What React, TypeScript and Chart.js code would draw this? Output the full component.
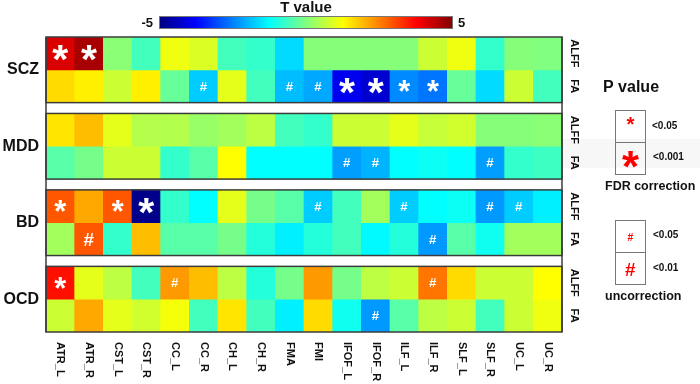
import React, { useEffect, useRef } from "react";
import { Chart, registerables } from "chart.js";
Chart.register(...registerables);

const tracts = ["ATR_L", "ATR_R", "CST_L", "CST_R", "CC_L", "CC_R", "CH_L", "CH_R", "FMA", "FMI", "IFOF_L", "IFOF_R", "ILF_L", "ILF_R", "SLF_L", "SLF_R", "UC_L", "UC_R"];
const groups = ["SCZ", "MDD", "BD", "OCD"];
const measures = ["ALFF", "FA"];

const sczALFF = [4.1, 4.6, 0.1, -0.6, 1.1, 0.9, -0.6, -0.75, -1.6, 0.05, 0.05, 0.05, 0.05, 0.75, 1.1, -0.75, 0.05, 0.0];
const sczFA = [1.6, 1.4, 0.75, 1.4, -0.25, -1.75, 1.0, -0.6, -1.9, -2.1, -3.9, -4.2, -2.4, -2.6, -0.25, -1.6, 0.75, -0.6];
const mddALFF = [1.5, 1.9, 1.0, 0.5, 0.5, 0.25, 0.35, 0.6, -0.6, -0.75, 0.75, 0.75, 1.0, 0.7, 0.8, 0.05, 0.05, 0.1];
const mddFA = [-0.4, -0.1, 0.75, 0.75, -0.75, -0.4, 1.25, -1.25, -1.25, -1.25, -2.2, -2.0, -1.25, -1.15, -1.25, -2.2, -0.75, -0.65];
const bdALFF = [2.9, 2.1, 2.9, -4.9, -0.75, -1.25, 1.0, -0.1, -0.4, -1.75, -0.6, 0.35, -1.75, -1.25, -1.15, -2.25, -1.75, -1.4];
const bdFA = [0.35, 2.9, -0.75, 1.9, -0.4, -0.4, -0.1, -0.9, -1.4, -0.9, -0.6, -1.3, -0.9, -2.25, -0.4, -1.1, 0.35, 0.35];
const ocdALFF = [3.6, 1.0, 0.6, -0.6, 2.25, 1.9, 0.6, -0.9, -0.1, 2.25, -0.1, 0.6, 0.75, 2.6, 1.6, 0.75, 0.75, 1.25];
const ocdFA = [0.75, 2.1, 1.0, 0.8, 1.15, -0.6, 1.5, -0.6, -1.4, 1.6, -1.1, -2.25, -0.4, 0.6, 0.75, -0.6, 0.75, 1.1];

// "*" FDR p<0.05, "**" FDR p<0.001, "#" uncorrected p<0.05, "##" uncorrected p<0.01
const sczALFFSig = ["**", "**", "", "", "", "", "", "", "", "", "", "", "", "", "", "", "", ""];
const sczFASig = ["", "", "", "", "", "#", "", "", "#", "#", "**", "**", "*", "*", "", "", "", ""];
const mddALFFSig = ["", "", "", "", "", "", "", "", "", "", "", "", "", "", "", "", "", ""];
const mddFASig = ["", "", "", "", "", "", "", "", "", "", "#", "#", "", "", "", "#", "", ""];
const bdALFFSig = ["*", "", "*", "**", "", "", "", "", "", "#", "", "", "#", "", "", "#", "#", ""];
const bdFASig = ["", "##", "", "", "", "", "", "", "", "", "", "", "", "#", "", "", "", ""];
const ocdALFFSig = ["*", "", "", "", "#", "", "", "", "", "", "", "", "", "#", "", "", "", ""];
const ocdFASig = ["", "", "", "", "", "", "", "", "", "", "", "#", "", "", "", "", "", ""];

const rowValues = [sczALFF, sczFA, mddALFF, mddFA, bdALFF, bdFA, ocdALFF, ocdFA];
const rowSigs = [sczALFFSig, sczFASig, mddALFFSig, mddFASig, bdALFFSig, bdFASig, ocdALFFSig, ocdFASig];

const T_MIN = -5;
const T_MAX = 5;
const GAP = 0.33;
const Y_MAX = 8 + 3 * GAP;
const FONT = '"Liberation Sans", Arial, sans-serif';

function clamp(x: number) {
  return Math.max(0, Math.min(1, x));
}
function jet(v: number) {
  const t = clamp((v - T_MIN) / (T_MAX - T_MIN));
  const r = clamp(1.5 - Math.abs(4 * t - 3));
  const g = clamp(1.5 - Math.abs(4 * t - 2));
  const b = clamp(1.5 - Math.abs(4 * t - 1));
  return `rgb(${Math.round(r * 255)},${Math.round(g * 255)},${Math.round(b * 255)})`;
}
function rowTop(r: number) {
  return r + Math.floor(r / 2) * GAP;
}

function drawGlyph(ctx: CanvasRenderingContext2D, ch: string, cx: number, cy: number, targetW: number, color: string) {
  ctx.font = `bold 100px ${FONT}`;
  const m = ctx.measureText(ch);
  const w = m.actualBoundingBoxLeft + m.actualBoundingBoxRight;
  const size = (100 * targetW) / w;
  ctx.font = `bold ${size}px ${FONT}`;
  const m2 = ctx.measureText(ch);
  ctx.textAlign = "left";
  ctx.textBaseline = "alphabetic";
  const gx = cx - (m2.actualBoundingBoxRight - m2.actualBoundingBoxLeft) / 2;
  const gy = cy + (m2.actualBoundingBoxAscent - m2.actualBoundingBoxDescent) / 2;
  ctx.fillStyle = color;
  ctx.fillText(ch, gx, gy);
}

function drawSig(ctx: CanvasRenderingContext2D, s: string, cx: number, cy: number, color: string) {
  if (s === "**") drawGlyph(ctx, "*", cx, cy, 16, color);
  else if (s === "*") drawGlyph(ctx, "*", cx, cy, 12, color);
  else if (s === "##") drawGlyph(ctx, "#", cx, cy, 10, color);
  else if (s === "#") drawGlyph(ctx, "#", cx, cy, 7, color);
}

const decorPlugin = {
  id: "heatDecor",
  beforeDraw(chart: any) {
    const ctx = chart.ctx;
    ctx.save();
    ctx.fillStyle = "#ffffff";
    ctx.fillRect(0, 0, chart.width, chart.height);
    ctx.fillStyle = "#f7f7f7";
    ctx.fillRect(chart.chartArea.right, 139, chart.width - chart.chartArea.right, 29);
    ctx.restore();
  },
  afterDatasetsDraw(chart: any) {
    const ctx: CanvasRenderingContext2D = chart.ctx;
    const xs = chart.scales.x;
    const ys = chart.scales.y;
    const { left, right } = chart.chartArea;
    ctx.save();

    // markers
    rowSigs.forEach((sigs, r) => {
      const cy = ys.getPixelForValue(rowTop(r) + 0.5);
      sigs.forEach((s, c) => {
        if (!s) return;
        drawSig(ctx, s, xs.getPixelForValue(c), cy, "#ffffff");
      });
    });

    // group frames
    ctx.strokeStyle = "#3c3c3c";
    ctx.lineWidth = 1.5;
    for (let g = 0; g < groups.length; g++) {
      const t = ys.getPixelForValue(rowTop(g * 2));
      const b = ys.getPixelForValue(rowTop(g * 2) + 2);
      ctx.strokeRect(left, t, right - left, b - t);
    }
    const top = ys.getPixelForValue(0);
    const bottom = ys.getPixelForValue(Y_MAX);
    ctx.beginPath();
    ctx.moveTo(left, top);
    ctx.lineTo(left, bottom);
    ctx.moveTo(right, top);
    ctx.lineTo(right, bottom);
    ctx.stroke();

    // group labels
    ctx.fillStyle = "#111";
    ctx.font = `bold 16px ${FONT}`;
    ctx.textAlign = "right";
    ctx.textBaseline = "middle";
    groups.forEach((g, i) => {
      ctx.fillText(g, 39, ys.getPixelForValue(rowTop(i * 2) + 1));
    });

    // measure labels (rotated)
    ctx.font = `bold 11px ${FONT}`;
    ctx.textAlign = "center";
    for (let r = 0; r < 8; r++) {
      const cy = ys.getPixelForValue(rowTop(r) + 0.5);
      ctx.save();
      ctx.translate(right + 12, cy);
      ctx.rotate(Math.PI / 2);
      ctx.fillText(measures[r % 2], 0, 0);
      ctx.restore();
    }

    // tract labels (rotated clockwise)
    ctx.textAlign = "left";
    tracts.forEach((t, c) => {
      ctx.save();
      ctx.translate(xs.getPixelForValue(c), bottom + 10);
      ctx.rotate(Math.PI / 2);
      ctx.fillText(t, 0, 0);
      ctx.restore();
    });

    // colorbar
    const cbL = 159, cbR = 453, cbT = 16, cbB = 29;
    const grad = ctx.createLinearGradient(cbL, 0, cbR, 0);
    for (let i = 0; i <= 40; i++) {
      grad.addColorStop(i / 40, jet(T_MIN + ((T_MAX - T_MIN) * i) / 40));
    }
    ctx.fillStyle = grad;
    ctx.fillRect(cbL, cbT, cbR - cbL, cbB - cbT);
    ctx.strokeStyle = "#777";
    ctx.lineWidth = 1;
    ctx.strokeRect(cbL + 0.5, cbT + 0.5, cbR - cbL - 1, cbB - cbT - 1);
    ctx.fillStyle = "#111";
    ctx.font = `bold 15px ${FONT}`;
    ctx.textAlign = "center";
    ctx.textBaseline = "middle";
    ctx.fillText("T value", (cbL + cbR) / 2, 8);
    ctx.font = `bold 13px ${FONT}`;
    ctx.textAlign = "right";
    ctx.fillText(String(T_MIN), cbL - 6, 23);
    ctx.textAlign = "left";
    ctx.fillText(String(T_MAX), cbR + 5, 23);

    // P value legend
    ctx.font = `bold 16px ${FONT}`;
    ctx.textAlign = "left";
    ctx.fillText("P value", 603, 88);
    ctx.strokeStyle = "#777";
    ctx.lineWidth = 1;
    const bx = 615.5, bw = 30;
    ctx.strokeRect(bx, 110.5, bw, 32);
    ctx.strokeRect(bx, 142.5, bw, 32);
    ctx.strokeRect(bx, 220.5, bw, 32);
    ctx.strokeRect(bx, 252.5, bw, 32);
    drawGlyph(ctx, "*", bx + bw / 2, 127, 8, "#ff0000");
    drawGlyph(ctx, "*", bx + bw / 2, 159, 17, "#ff0000");
    drawGlyph(ctx, "#", bx + bw / 2, 237, 5.5, "#ff0000");
    drawGlyph(ctx, "#", bx + bw / 2, 269, 10, "#ff0000");
    ctx.fillStyle = "#111";
    ctx.font = `bold 10px ${FONT}`;
    ctx.textAlign = "left";
    ctx.textBaseline = "middle";
    ctx.fillText("<0.05", 652, 126);
    ctx.fillText("<0.001", 653, 157);
    ctx.fillText("<0.05", 653, 235);
    ctx.fillText("<0.01", 653, 268);
    ctx.font = `bold 12.5px ${FONT}`;
    ctx.fillText("FDR correction", 605, 187);
    ctx.fillText("uncorrection", 605, 297);

    ctx.restore();
  },
};

export default function App() {
  const ref = useRef<HTMLCanvasElement | null>(null);
  useEffect(() => {
    document.body.style.margin = "0";
    if (!ref.current) return;
    const datasets = rowValues.map((vals, r) => ({
      label: `${groups[Math.floor(r / 2)]} ${measures[r % 2]}`,
      data: vals.map(() => [rowTop(r), rowTop(r) + 1]),
      backgroundColor: vals.map((v) => jet(v)),
      borderWidth: 0,
      barPercentage: 1,
      categoryPercentage: 1,
      grouped: false,
    }));
    const chart = new Chart(ref.current, {
      type: "bar",
      data: { labels: tracts, datasets: datasets as any },
      options: {
        animation: false,
        responsive: false,
        devicePixelRatio: 1,
        events: [],
        layout: { padding: { left: 46, right: 138, top: 37, bottom: 52 } },
        plugins: { legend: { display: false }, tooltip: { enabled: false } },
        scales: {
          x: { type: "category", display: false, offset: true, grid: { display: false } },
          y: { type: "linear", display: false, min: 0, max: Y_MAX, reverse: true },
        },
      },
      plugins: [decorPlugin],
    });
    return () => chart.destroy();
  }, []);
  return (
    <div style={{ width: 700, height: 384 }}>
      <canvas ref={ref} width={700} height={384} />
    </div>
  );
}
